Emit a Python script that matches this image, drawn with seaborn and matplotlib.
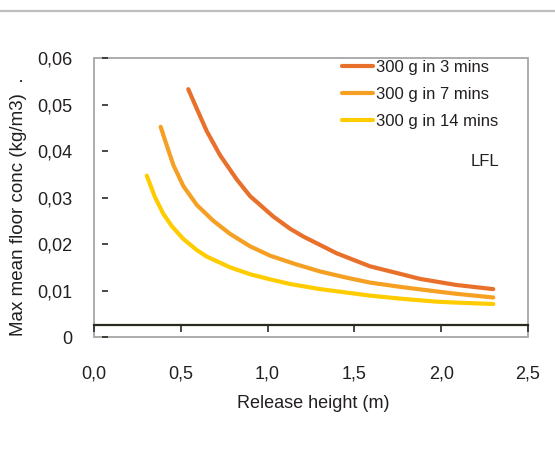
import matplotlib
matplotlib.use("Agg")
import matplotlib.pyplot as plt
from matplotlib.lines import Line2D
from matplotlib.patches import Rectangle
import pandas as pd
import seaborn as sns

# Release heights (m) and maximum mean floor concentrations (kg/m3)
h_3min = [0.543, 0.592, 0.649, 0.726, 0.822, 0.899, 1.033, 1.129, 1.206, 1.398,
          1.590, 1.740, 1.878, 2.085, 2.300]
c_3min = [0.0533, 0.0491, 0.0443, 0.0391, 0.0339, 0.0303, 0.0259, 0.0233, 0.0216, 0.0180,
          0.0152, 0.0138, 0.0125, 0.0112, 0.0103]

h_7min = [0.384, 0.419, 0.457, 0.514, 0.592, 0.687, 0.783, 0.899, 1.014, 1.158,
          1.302, 1.450, 1.590, 1.780, 1.974, 2.085, 2.300]
c_7min = [0.0452, 0.0412, 0.0370, 0.0325, 0.0284, 0.0250, 0.0222, 0.0195, 0.0175, 0.0157,
          0.0141, 0.0128, 0.0117, 0.0107, 0.0098, 0.0093, 0.0085]

h_14min = [0.304, 0.351, 0.399, 0.449, 0.514, 0.592, 0.649, 0.783, 0.899, 1.014,
           1.129, 1.302, 1.590, 1.780, 1.974, 2.085, 2.300]
c_14min = [0.0347, 0.0301, 0.0265, 0.0238, 0.0211, 0.0187, 0.0173, 0.0150, 0.0135, 0.0124,
           0.0114, 0.0103, 0.0089, 0.0082, 0.0076, 0.0074, 0.0071]

series_names = ["300 g in 3 mins", "300 g in 7 mins", "300 g in 14 mins"]
series_colors = ["#E8702A", "#F5A023", "#FFCC00"]

x_ticks = [0.0, 0.5, 1.0, 1.5, 2.0, 2.5]
x_tick_labels = ["0,0", "0,5", "1,0", "1,5", "2,0", "2,5"]
y_ticks = [0.0, 0.01, 0.02, 0.03, 0.04, 0.05, 0.06]
y_tick_labels = ["0", "0,01", "0,02", "0,03", "0,04", "0,05", "0,06"]

frames = []
for name, h, c in zip(series_names, [h_3min, h_7min, h_14min], [c_3min, c_7min, c_14min]):
    frames.append(pd.DataFrame({"height": h, "conc": c, "series": name}))
df = pd.concat(frames, ignore_index=True)

sns.set_style("white")
plt.rcParams["font.family"] = ["Liberation Sans Narrow", "Liberation Sans", "DejaVu Sans"]
plt.rcParams["lines.solid_joinstyle"] = "round"
text_color = "#231F20"
axis_dark = "#2B2A20"

W, H = 555, 450
fig = plt.figure(figsize=(W / 100, H / 100), dpi=100)
ax = fig.add_axes([94 / W, 1 - 337 / H, 434 / W, 279 / H])

sns.lineplot(data=df, x="height", y="conc", hue="series", hue_order=series_names,
             palette=series_colors, linewidth=3.0, sort=True, estimator=None,
             legend=True, ax=ax)

ax.set_xlim(0, 2.5)
ax.set_ylim(0, 0.06)
ax.set_xlabel("")
ax.set_ylabel("")

# grey frame around the plotting area
ax.add_patch(Rectangle((0, 0), 1, 1, transform=ax.transAxes, fill=False,
                       edgecolor="#A6A6A6", linewidth=1.3, clip_on=False, zorder=0.5))

for s in ["top", "right"]:
    ax.spines[s].set_visible(False)
ax.spines["left"].set_position(("axes", 8 / 434))
ax.spines["left"].set_visible(False)
ax.spines["bottom"].set_position(("data", 0.0025))
ax.spines["bottom"].set_color(axis_dark)
ax.spines["bottom"].set_linewidth(1.6)

ax.set_xticks(x_ticks)
ax.set_xticklabels(x_tick_labels)
ax.set_yticks(y_ticks)
ax.set_yticklabels(y_tick_labels)
ax.tick_params(axis="y", direction="in", length=4.5, width=1.2, color=axis_dark,
               pad=21, labelsize=13, labelcolor=text_color, left=True)
ax.tick_params(axis="x", direction="out", length=5, width=1.2, color=axis_dark,
               pad=24, labelsize=13, labelcolor=text_color, bottom=True)

leg = ax.legend(loc="upper left", bbox_to_anchor=(342 / W, 1 - 60 / H),
                bbox_transform=fig.transFigure, frameon=False, fontsize=12,
                borderpad=0, borderaxespad=0, handlelength=1.86, handletextpad=0.2,
                labelspacing=0.72)
for t in leg.get_texts():
    t.set_color(text_color)

fig.text(485 / W, 1 - 161 / H, "LFL", ha="center", va="center", fontsize=12,
         color=text_color)

fig.text(313 / W, 1 - 403 / H, "Release height (m)", ha="center", va="center",
         fontsize=13, color=text_color)
fig.text(19 / W, 1 - 336 / H, "Max mean floor conc (kg/m3)  .", rotation=90,
         ha="center", va="bottom", fontsize=13.5, color=text_color)

# thin rule across the top of the figure
fig.add_artist(Line2D([0, 1], [1 - 11 / H, 1 - 11 / H], transform=fig.transFigure,
                      color="#BDBDBD", linewidth=1.6))

fig.savefig("out.png", dpi=100)
